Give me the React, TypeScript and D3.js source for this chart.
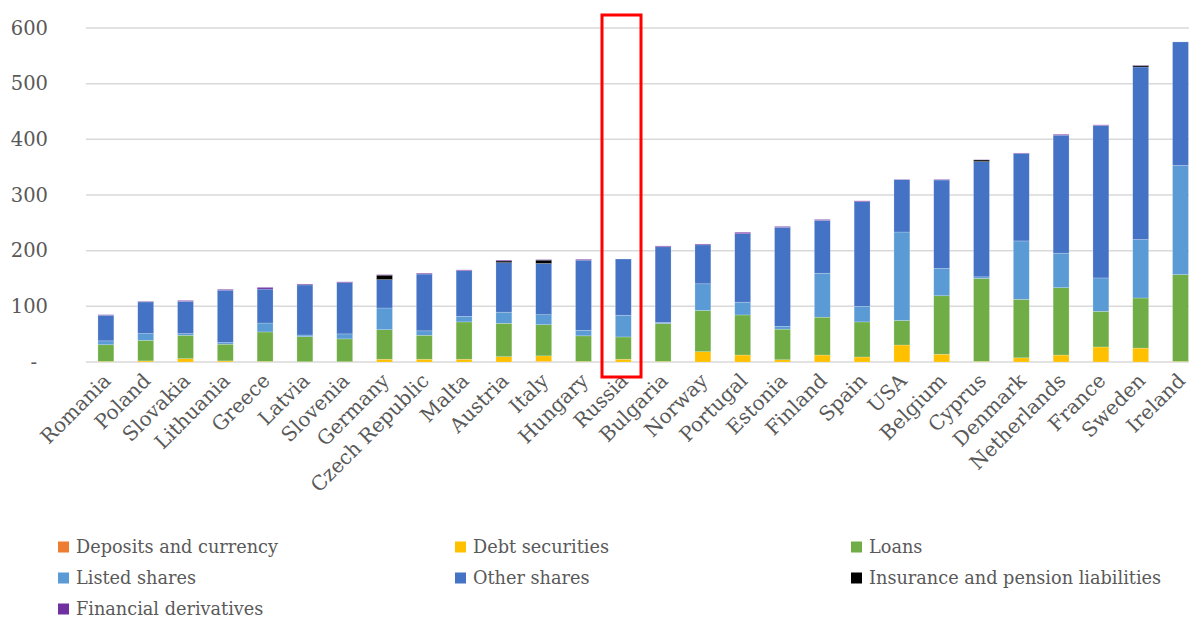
import React from "react";
import * as d3 from "d3";

const countries = ["Romania","Poland","Slovakia","Lithuania","Greece","Latvia","Slovenia","Germany","Czech Republic","Malta","Austria","Italy","Hungary","Russia","Bulgaria","Norway","Portugal","Estonia","Finland","Spain","USA","Belgium","Cyprus","Denmark","Netherlands","France","Sweden","Ireland"];

const deposits =    [0,0,0,0,0,0,0,0,0,0,0,1,0,0,0,0,0,0,0,0,0,0,0,0,0,0,0,0];
const debt =        [1,2,6,2,1,0.5,0.5,5,5,5,9.5,10,1,5,1,18.5,12.5,4,12.5,9,30.5,14,1,7.5,12.5,27,25,1];
const loans =       [30,37,42,30,53,45,41,53,43,67,60,56,46,40,68,74,72,55,68,63,44,105,149,105,121,64,90,156];
const listed =      [7,12,3,3,16,3,9,39,8,10,20,18,10,39,2,48,23,5,79,28,159,49,3,105,62,60,105,196];
const other =       [46,57,58,94,61,90,92,51,102,82,89,92,126,101,136,70,123,178,95,188,94,159,207,157,212,274,310,222];
const insurance =   [0,0,0,0,0,0,0,8,0,0,3,6,0,0,0,0,0,0,0,0,0,0,3,0,0,0,2.5,0];
const derivatives = [1,1,1.5,1.5,3,1.5,1.5,1,1.5,1.5,1.5,1,1.5,0,1.5,1.5,2.5,1.5,1.5,1.5,0.5,1,0.5,1,1.5,1,0.5,0];

const seriesNames = ["Deposits and currency","Debt securities","Loans","Listed shares","Other shares","Insurance and pension liabilities","Financial derivatives"];
const seriesColors = ["#ED7D31","#FFC000","#70AD47","#5B9BD5","#4472C4","#000000","#7030A0"];
const seriesValues = [deposits, debt, loans, listed, other, insurance, derivatives];
const yTicks = [0,100,200,300,400,500,600];

const FONT = "'DejaVu Serif', 'Liberation Serif', serif";

export default function App() {
  const W = 1189, H = 617;
  const x = d3.scaleBand<string>().domain(countries).range([86, 86 + 28 * 39.8]).paddingInner(0.6).paddingOuter(0.3);
  const y = d3.scaleLinear().domain([0, 600]).range([362, 28]);

  const table = countries.map((c, i) => {
    const row: any = { country: c };
    seriesNames.forEach((s, k) => (row[s] = seriesValues[k][i]));
    return row;
  });
  const stacked = d3.stack<any>().keys(seriesNames)(table);

  const legendPos = [
    [58, 547], [455, 547], [851, 547],
    [58, 578], [455, 578], [851, 578],
    [58, 609],
  ];

  return (
    <div style={{ position: "absolute", left: 0, top: 0 }}>
      <svg width={W} height={H} style={{ display: "block", overflow: "hidden" }}>
        <rect width={W} height={H} fill="#fff" />
        {yTicks.map((t) => (
          <g key={t}>
            <line x1={86} x2={W} y1={y(t)} y2={y(t)} stroke="#d9d9d9" strokeWidth={1.5} />
            <text x={t === 0 ? 37 : 48} y={y(t)} dy="0.35em" textAnchor="end" fontFamily={FONT} fontSize={19.5} fill="#595959">
              {t === 0 ? "-" : t}
            </text>
          </g>
        ))}
        {stacked.map((layer, k) => (
          <g key={layer.key} fill={seriesColors[k]}>
            {layer.map((d, i) =>
              d[1] - d[0] > 0 ? (
                <rect key={i} x={x(countries[i])} width={x.bandwidth()} y={y(d[1])} height={y(d[0]) - y(d[1])} stroke="#ffffff" strokeOpacity={0.35} strokeWidth={0.6} />
              ) : null
            )}
          </g>
        ))}
        {countries.map((c) => {
          const cx = (x(c) as number) + x.bandwidth() / 2;
          return (
            <text key={c} transform={`translate(${cx + 6},${382}) rotate(-45)`} textAnchor="end" fontFamily={FONT} fontSize={20} fill="#595959">
              {c}
            </text>
          );
        })}
        <rect x={602} y={15} width={39} height={362} fill="none" stroke="#ff0000" strokeWidth={3} />
        {seriesNames.map((s, k) => (
          <g key={s} transform={`translate(${legendPos[k][0]},${legendPos[k][1]})`}>
            <rect x={0} y={-5.5} width={11} height={11} fill={seriesColors[k]} />
            <text x={18} y={0} dy="0.35em" fontFamily={FONT} fontSize={17.7} fill="#595959">
              {s}
            </text>
          </g>
        ))}
      </svg>
    </div>
  );
}
